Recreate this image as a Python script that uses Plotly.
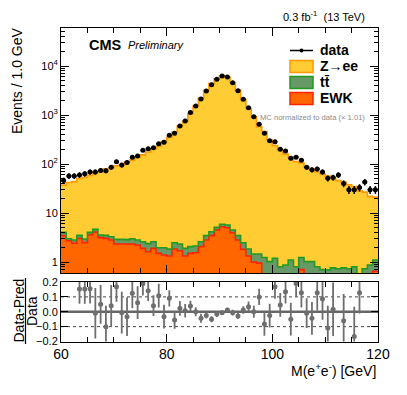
import numpy as np
import plotly.graph_objects as go

# binning: 1 GeV bins from 60 to 120 GeV
mass_edges = np.arange(60, 121, 1)
mass_centers = mass_edges[:-1] + 0.5

data_counts = [46, 57, 57, 60, 63, 69, 69, 74, 73, 86,
               111, 95, 107, 137, 145, 190, 205, 215, 259, 278,
               385, 425, 600, 755, 1120, 1520, 2130, 3080, 4170, 5400,
               6250, 6000, 4570, 3140, 2090, 1410, 925, 645, 425, 300,
               285, 200, 185, 131, 138, 120, 86, 76, 79, 69,
               51, 53, 60, 40, 30, 30, 33, 43, 30, 30]

zee_mc = [33, 39, 41, 47.3, 50.4, 54.3, 65.1, 66.7, 76.8, 79.3,
          89.5, 92.7, 107.6, 117, 133, 151, 174, 203, 229, 285,
          348, 446, 584, 748, 1074, 1518, 2221, 3157, 4375, 5476,
          6282, 5922, 4592, 3225, 2062, 1360, 923, 578, 459, 307,
          236, 190, 159, 137, 111, 104, 86, 78, 68, 62,
          56, 51, 45, 42, 37, 34, 28, 26, 21, 20]

ttbar_mc = [0.58, 0.27, 0.40, 0.46, 0.47, 0.47, 0.54, 0.42, 0.46, 0.48,
            0.57, 0.57, 0.53, 0.66, 0.59, 0.70, 0.75, 0.70, 0.46, 0.57,
            0.51, 0.64, 0.63, 0.57, 0.56, 0.57, 0.54, 0.64, 0.71, 0.60,
            0.62, 0.67, 0.53, 0.64, 0.67, 0.51, 0.46, 0.51, 1.24, 1.02,
            1.19, 0.80, 0.87, 1.10, 0.80, 0.54, 1.02, 1.02, 0.80, 0.70,
            0.69, 0.76, 0.73, 0.76, 0.73, 0.80, 0.50, 0.73, 0.87, 0.45]

ewk_mc = [3.45, 2.72, 2.41, 3.04, 2.48, 3.56, 4.10, 3.14, 3.04, 2.81,
          2.33, 2.33, 2.33, 2.33, 2.22, 1.90, 1.62, 1.90, 1.50, 1.39,
          1.33, 1.84, 1.70, 1.33, 1.50, 1.55, 2.06, 2.81, 3.45, 4.50,
          5.26, 5.02, 3.97, 2.81, 1.81, 1.33, 1.00, 0.95, 0, 0,
          0, 0, 0, 0, 0, 0.70, 0, 0, 0, 0,
          0, 0, 0, 0, 0, 0, 0, 0, 0, 0.65]

ratio = [0.21, 0.26, 0.23, 0.153, 0.153, 0.155, -0.01, 0.05, -0.10, 0.04,
         0.168, -0.006, -0.033, 0.124, 0.061, 0.19, 0.142, 0.041, 0.108, -0.033,
         0.09, -0.055, 0.023, 0.007, 0.039, 0.0, -0.044, -0.026, -0.05, -0.015,
         -0.006, 0.012, -0.006, -0.028, 0.012, 0.034, 0.0, 0.10, -0.082, -0.026,
         0.168, 0.046, 0.135, -0.05, 0.19, 0.128, -0.01, -0.044, 0.128, 0.086,
         -0.11, 0.017, 0.23, -0.06, -0.27, -0.167, 0.128, 0.37, 0.25, 0.29]

ratio_err = [0.13, 0.12, 0.12, 0.10, 0.10, 0.10, 0.17, 0.13, 0.14, 0.14,
             0.10, 0.14, 0.13, 0.10, 0.11, 0.08, 0.07, 0.07, 0.08, 0.08,
             0.055, 0.06, 0.05, 0.045, 0.035, 0.03, 0.03, 0.02, 0.02, 0.02,
             0.015, 0.015, 0.02, 0.02, 0.025, 0.035, 0.04, 0.055, 0.08, 0.08,
             0.08, 0.08, 0.08, 0.11, 0.09, 0.10, 0.10, 0.11, 0.12, 0.14,
             0.15, 0.18, 0.15, 0.18, 0.20, 0.20, 0.14, 0.20, 0.20, 0.20]

W, H = 407, 395
FONT = "Liberation Sans, Arial, Helvetica, sans-serif"

COL_ZEE, LINE_ZEE = '#FFCC33', '#FF9900'
COL_TT, LINE_TT = '#669966', '#229922'
COL_EWK, LINE_EWK = '#FF6600', '#FF2200'
COL_RATIO = '#6E6E6E'


def px(x):
    return x / W


def py(y):
    return 1 - y / H


def steps(vals):
    # histogram outline for line_shape='hv'
    v = [float(max(a, 1e-2)) for a in vals]
    return [float(e) for e in mass_edges], v + [v[-1]]


ewk_arr = np.array(ewk_mc, dtype=float)
tt_stack = ewk_arr + np.array(ttbar_mc)
total_stack = tt_stack + np.array(zee_mc)

fig = go.Figure()

# baseline for the stacked fills (below the visible range)
xs, ys = steps([1e-2] * 60)
fig.add_trace(go.Scatter(x=xs, y=ys, mode='lines', line=dict(width=0),
                         line_shape='hv', xaxis='x', yaxis='y', hoverinfo='skip'))
for vals, fc, lc in [(ewk_arr, COL_EWK, LINE_EWK),
                     (tt_stack, COL_TT, LINE_TT),
                     (total_stack, COL_ZEE, LINE_ZEE)]:
    xs, ys = steps(vals)
    fig.add_trace(go.Scatter(x=xs, y=ys, mode='lines', line_shape='hv',
                             line=dict(color=lc, width=1.6),
                             fill='tonexty', fillcolor=fc,
                             xaxis='x', yaxis='y'))

# data
fig.add_trace(go.Scatter(
    x=mass_centers, y=data_counts, mode='markers',
    marker=dict(color='black', size=5),
    error_y=dict(type='data', array=list(np.sqrt(data_counts)), color='black',
                 thickness=1.5, width=0),
    error_x=dict(type='constant', value=0.45, color='black', thickness=1.5, width=0),
    xaxis='x', yaxis='y'))

# ratio panel: points outside the frame are not drawn
r = np.array(ratio)
inside = np.abs(r) <= 0.2
fig.add_trace(go.Scatter(
    x=list(mass_centers[inside]), y=list(r[inside]), mode='markers',
    marker=dict(color=COL_RATIO, size=5),
    error_y=dict(type='data', array=list(np.array(ratio_err)[inside]), color=COL_RATIO,
                 thickness=1.8, width=0),
    xaxis='x2', yaxis='y2'))

shapes = [dict(type='line', xref='x2', yref='y2', x0=60, x1=120, y0=0, y1=0,
               line=dict(color='#666666', width=2.5), layer='below')]
for yy in (0.1, -0.1):
    shapes.append(dict(type='line', xref='x2', yref='y2', x0=60, x1=120, y0=yy, y1=yy,
                       line=dict(color='#444444', width=1, dash='dot'), layer='below'))

xdom = [px(61), px(378)]
axis_common = dict(showgrid=False, zeroline=False, showline=True, linecolor='black',
                   linewidth=1, mirror='allticks', ticks='inside', tickcolor='black',
                   automargin=False)

xtick_vals = [60, 80, 100, 120]
x_minor = [v for v in range(60, 121, 5) if v % 20]
y_minor = [m * 10 ** k for k in range(-1, 5) for m in range(2, 10)]

fig.update_layout(
    width=W, height=H, autosize=False,
    margin=dict(l=0, r=0, t=0, b=0, autoexpand=False),
    paper_bgcolor='white', plot_bgcolor='white',
    showlegend=False,
    font=dict(family=FONT, color='black'),
    xaxis=dict(domain=xdom, anchor='y', range=[60, 120], tickmode='array',
               tickvals=xtick_vals, ticklen=8, showticklabels=False,
               minor=dict(tickmode='array', tickvals=x_minor, ticks='inside',
                          ticklen=5, tickcolor='black'),
               **axis_common),
    yaxis=dict(domain=[py(273), py(28)], anchor='x', type='log', range=[-0.224, 4.776],
               tickmode='array', tickvals=[1, 10, 100, 1000, 10000],
               ticktext=['1', '10', '10<sup>2</sup>', '10<sup>3</sup>', '10<sup>4</sup>'],
               tickfont=dict(size=11), ticklen=8,
               minor=dict(tickmode='array', tickvals=y_minor, ticks='inside',
                          ticklen=4, tickcolor='black'),
               **axis_common),
    xaxis2=dict(domain=xdom, anchor='y2', range=[60, 120], tickmode='array',
                tickvals=xtick_vals, tickfont=dict(size=14), ticklen=8,
                minor=dict(tickmode='array', tickvals=x_minor, ticks='inside',
                           ticklen=5, tickcolor='black'),
                **axis_common),
    yaxis2=dict(domain=[py(341.5), py(282)], anchor='x2', range=[-0.2, 0.2],
                tickmode='array', tickvals=[-0.2, -0.1, 0, 0.1, 0.2],
                ticktext=['\u22120.2', '\u22120.1', '0.0', '0.1', '0.2'],
                tickfont=dict(size=11), ticklen=7,
                **axis_common),
)

ann = []


def text(x, y, s, size, xanchor='left', angle=0, color='black'):
    ann.append(dict(x=px(x), y=py(y), xref='paper', yref='paper', text=s,
                    showarrow=False, xanchor=xanchor, yanchor='middle',
                    textangle=angle, font=dict(size=size, color=color, family=FONT)))


text(17, 81, 'Events / 1.0 GeV', 14, xanchor='center', angle=-90)
text(367, 16, '0.3 fb<sup>-1</sup>  (13 TeV)', 11, xanchor='right')
text(87, 45, '<b>CMS</b>', 14.5)
text(126, 45, '<i>Preliminary</i>', 11)

# legend
shapes.append(dict(type='line', xref='paper', yref='paper', x0=px(290), x1=px(313),
                   y0=py(50.5), y1=py(50.5), line=dict(color='black', width=1.5)))
shapes.append(dict(type='circle', xref='paper', yref='paper', x0=px(299.5), x1=px(303.5),
                   y0=py(52.5), y1=py(48.5), fillcolor='black', line=dict(color='black', width=0)))
for y0, fc, lc in [(60.5, COL_ZEE, LINE_ZEE), (76.5, COL_TT, LINE_TT), (92.5, COL_EWK, LINE_EWK)]:
    shapes.append(dict(type='rect', xref='paper', yref='paper',
                       x0=px(290), x1=px(313), y0=py(y0 + 12), y1=py(y0),
                       fillcolor=fc, line=dict(color=lc, width=1.5)))
text(318, 50, '<b>data</b>', 14)
text(318, 66, '<b>Z\u2192ee</b>', 14)
text(318, 82, '<b>tt\u0304</b>', 14)
text(318, 98, '<b>EWK</b>', 14)
text(367, 117, 'MC normalized to data (\u00d7 1.01)', 7.6, xanchor='right', color='#8a8a8a')

# ratio y title as a fraction
text(18.5, 311, 'Data-Pred', 14, xanchor='center', angle=-90)
text(32, 311, 'Data', 14, xanchor='center', angle=-90)
shapes.append(dict(type='line', xref='paper', yref='paper',
                   x0=px(25.5), x1=px(25.5), y0=py(344), y1=py(278),
                   line=dict(color='black', width=1.2)))

text(378, 370, 'M(e<sup>+</sup>e<sup>-</sup>) [GeV]', 14, xanchor='right')

fig.update_layout(annotations=ann, shapes=shapes)
# page body has a default margin; drop it so the figure sits at the window origin
fig.write_html("out.html", config={'displayModeBar': False},
               post_script="document.body.style.margin='0';")
